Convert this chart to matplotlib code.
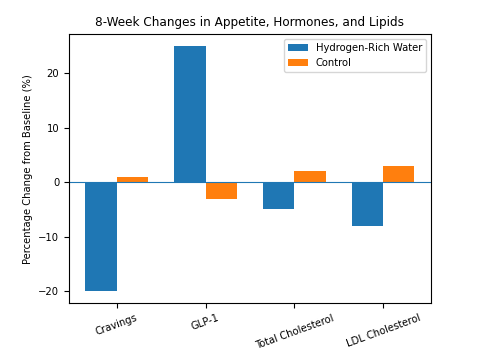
import matplotlib
matplotlib.use("Agg")
import matplotlib.pyplot as plt
import numpy as np

categories = ["Cravings", "GLP-1", "Total Cholesterol", "LDL Cholesterol"]
hrw_values = [-20, 25, -5, -8]
control_values = [1, -3, 2, 3]

plt.rcParams['font.size'] = 7.2
fig = plt.figure(figsize=(5.04, 3.55), dpi=100)
ax = fig.add_axes([0.137, 0.146, 0.718, 0.758])
x = np.arange(len(categories))
w = 0.35
ax.bar(x - w/2, hrw_values, w, label="Hydrogen-Rich Water", color="#1f77b4")
ax.bar(x + w/2, control_values, w, label="Control", color="#ff7f0e")
ax.axhline(0, color="#1f77b4", linewidth=0.8)
ax.set_xticks(x)
ax.set_xticklabels(categories, rotation=20)
ax.set_ylabel("Percentage Change from Baseline (%)")
ax.set_title("8-Week Changes in Appetite, Hormones, and Lipids", fontsize=8.64)
ax.legend(loc="upper right")
fig.savefig("out.png", dpi=100)
